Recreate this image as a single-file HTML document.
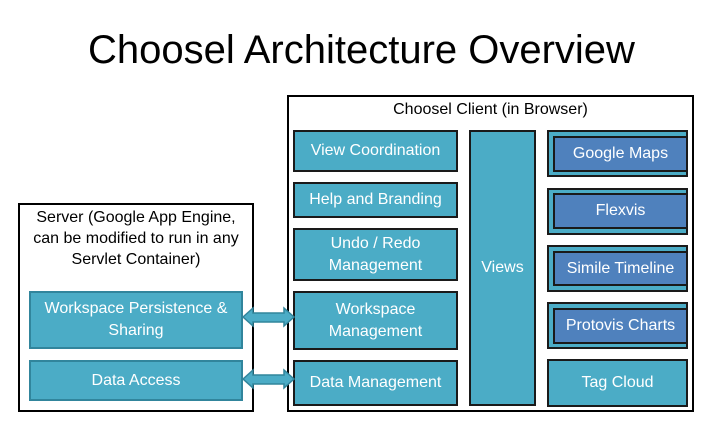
<!DOCTYPE html>
<html><head><style>
body{margin:0;width:709px;height:425px;background:#fff;position:relative;overflow:hidden;font-family:"Liberation Sans",sans-serif}
.a{position:absolute;box-sizing:border-box;display:flex;align-items:center;justify-content:center;text-align:center;white-space:nowrap}
.t{background:#4bacc6;border:2px solid #1a1a1a;color:#fff;font-size:16px;line-height:22px}
.s{background:#4bacc6;border:2px solid #31859c;color:#fff;font-size:16px;line-height:22px}
.d{background:#4f81bd;border:2px solid #1a1a1a;color:#fff;font-size:16px}
.w{border:2px solid #000;background:#fff}
</style></head><body>
<div class="a" style="left:0;top:20px;width:723px;height:60px;font-size:40px;color:#000">Choosel Architecture Overview</div>

<div class="a w" style="left:18px;top:203px;width:236px;height:209px"></div>
<div class="a" style="left:18px;top:205px;width:236px;height:66px;font-size:16px;line-height:21px">Server (Google App Engine,<br>can be modified to run in any<br>Servlet Container)</div>
<div class="a s" style="left:29px;top:291px;width:214px;height:58px">Workspace Persistence &amp;<br>Sharing</div>
<div class="a s" style="left:29px;top:360px;width:214px;height:41px">Data Access</div>

<div class="a w" style="left:287px;top:95px;width:407px;height:317px"></div>
<div class="a" style="left:287px;top:99px;width:407px;height:22px;font-size:16px">Choosel Client (in Browser)</div>
<div class="a t" style="left:293px;top:130px;width:165px;height:42px">View Coordination</div>
<div class="a t" style="left:293px;top:182px;width:165px;height:36px">Help and Branding</div>
<div class="a t" style="left:293px;top:228px;width:165px;height:53px">Undo / Redo<br>Management</div>
<div class="a t" style="left:293px;top:291px;width:165px;height:59px">Workspace<br>Management</div>
<div class="a t" style="left:293px;top:360px;width:165px;height:46px">Data Management</div>
<div class="a t" style="left:469px;top:130px;width:67px;height:276px">Views</div>

<div class="a t" style="left:547px;top:130px;width:141px;height:47px"></div>
<div class="a d" style="left:553px;top:136px;width:135px;height:36px">Google Maps</div>
<div class="a t" style="left:547px;top:188px;width:141px;height:47px"></div>
<div class="a d" style="left:553px;top:193px;width:135px;height:36px">Flexvis</div>
<div class="a t" style="left:547px;top:245px;width:141px;height:47px"></div>
<div class="a d" style="left:553px;top:251px;width:135px;height:35px">Simile Timeline</div>
<div class="a t" style="left:547px;top:302px;width:141px;height:47px"></div>
<div class="a d" style="left:553px;top:308px;width:135px;height:36px">Protovis Charts</div>
<div class="a t" style="left:547px;top:359px;width:141px;height:48px">Tag Cloud</div>

<svg style="position:absolute;left:0;top:0" width="709" height="425">
<g fill="#4bacc6" stroke="#31859c" stroke-width="1.5">
<polygon points="243,317 253,308 253,313 284,313 284,308 294,317 284,326 284,322 253,322 253,326"/>
<polygon points="243,379 253,370 253,375 284,375 284,370 294,379 284,388 284,384 253,384 253,388"/>
</g></svg>
</body></html>
